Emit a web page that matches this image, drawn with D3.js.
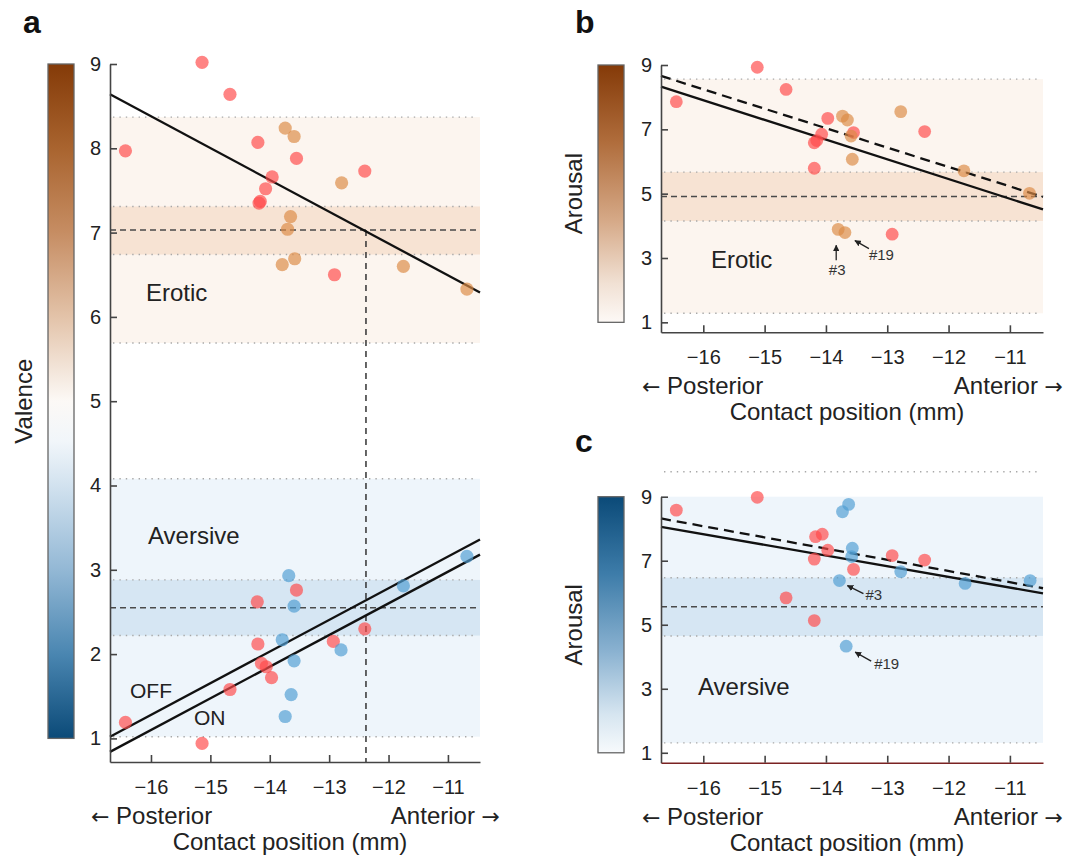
<!DOCTYPE html>
<html>
<head>
<meta charset="utf-8">
<script src="https://cdn.jsdelivr.net/npm/d3@7"></script>
<style>
    body { margin: 0; background: #fff; }
    svg text { font-family: "Liberation Sans", Arial, Helvetica, sans-serif; fill: #222; }
</style>
</head>
<body>
<svg id="fig" width="1077" height="859"></svg>
<script>
// ---- shared axis values ----
const xDomain = [-16.69, -10.46];
const xTicks = [-16, -15, -14, -13, -12, -11];
const valenceTicks = [1, 2, 3, 4, 5, 6, 7, 8, 9];
const arousalTicks = [1, 3, 5, 7, 9];

// ---- panel a (valence) ----
const aEroOffX = [-16.43, -15.14, -14.67, -14.20, -13.96, -14.07, -14.18, -14.16, -13.55, -12.40, -12.91];
const aEroOffY = [7.97, 9.02, 8.64, 8.07, 7.66, 7.52, 7.35, 7.37, 7.88, 7.73, 6.50];
const aEroOnX = [-13.74, -13.59, -12.79, -13.65, -13.70, -13.58, -13.79, -11.75, -10.68];
const aEroOnY = [8.24, 8.14, 7.59, 7.19, 7.04, 6.69, 6.62, 6.60, 6.33];
const aAveOffX = [-16.43, -15.14, -14.67, -14.21, -14.20, -14.14, -14.06, -13.97, -13.55, -12.93, -12.40];
const aAveOffY = [1.19, 0.94, 1.58, 2.62, 2.12, 1.89, 1.85, 1.72, 2.76, 2.15, 2.30];
const aAveOnX = [-13.68, -13.59, -13.79, -13.59, -13.64, -13.74, -12.80, -11.75, -10.68];
const aAveOnY = [2.93, 2.57, 2.17, 1.92, 1.52, 1.26, 2.05, 2.81, 3.16];
// bands: outer low, inner low, mean, inner high, outer high
const aEroBand = [5.69, 6.74, 7.03, 7.31, 8.37];
const aAveBand = [1.02, 2.22, 2.55, 2.88, 4.08];
// fitted lines: value at left and right end of xDomain
const aEroFit = [8.64, 6.29];
const aAveOffFit = [1.02, 3.36];
const aAveOnFit = [0.84, 3.18];
const aCrossX = -12.38;

// ---- panel b (arousal, erotic) ----
const bOffX = [-16.44, -15.12, -14.65, -13.97, -14.07, -14.19, -14.15, -14.19, -13.55, -12.39, -12.92];
const bOffY = [7.86, 8.93, 8.24, 7.34, 6.85, 6.58, 6.65, 5.79, 6.90, 6.93, 3.74];
const bOnX = [-13.73, -13.65, -13.59, -13.57, -12.78, -11.75, -10.68, -13.80, -13.69];
const bOnY = [7.41, 7.29, 6.79, 6.07, 7.55, 5.71, 5.01, 3.89, 3.79];
const bBand = [1.28, 4.15, 4.91, 5.67, 8.56];
const bFitSolid = [8.33, 4.51];
const bFitDashed = [8.66, 4.90];

// ---- panel c (arousal, aversive) ----
const cOffX = [-16.44, -15.12, -14.17, -14.06, -13.97, -14.19, -13.55, -14.65, -14.19, -12.92, -12.39];
const cOffY = [8.58, 8.98, 7.75, 7.83, 7.33, 7.05, 6.73, 5.84, 5.13, 7.16, 7.02];
const cOnX = [-13.73, -13.63, -13.57, -13.58, -13.78, -13.67, -12.78, -11.73, -10.67];
const cOnY = [8.53, 8.76, 7.39, 7.13, 6.38, 4.33, 6.66, 6.29, 6.38];
const cBand = [1.31, 4.65, 5.56, 6.47, 9.78];
const cFitSolid = [8.06, 5.98];
const cFitDashed = [8.32, 6.14];

const RED = '#ff4a4a', ORANGE = '#db8a45', BLUE = '#4f9ed3';
const eroticStyle = { light: '#fcf5ef', dark: '#f7e3d3' };
const aversiveStyle = { light: '#eef5fb', dark: '#d6e6f3' };

const svg = d3.select('#fig');
const defs = svg.append('defs');

// colour bar gradients
function gradient(id, stops) {
    const gr = defs.append('linearGradient').attr('id', id)
        .attr('x1', 0).attr('y1', 0).attr('x2', 0).attr('y2', 1);
    stops.forEach(s => gr.append('stop').attr('offset', s[0]).attr('stop-color', s[1]));
}
gradient('gradValence', [[0, '#843a08'], [0.125, '#a9642f'], [0.25, '#c68d63'], [0.375, '#e3c3a9'],
    [0.5, '#fcf9f6'], [0.56, '#f1f6fa'], [0.625, '#d2e2ef'], [0.75, '#93b8d5'], [0.875, '#4a86b1'], [1, '#0b4a78']]);
gradient('gradErotic', [[0, '#843a08'], [0.3, '#b06d3c'], [0.6, '#d5a886'], [0.85, '#f1e1d4'], [1, '#fdf9f6']]);
gradient('gradAversive', [[0, '#0b4a78'], [0.3, '#3d7ca9'], [0.6, '#89b1d0'], [0.85, '#d6e5f0'], [1, '#f7fafc']]);

defs.append('marker').attr('id', 'arrowHead')
    .attr('viewBox', '0 0 10 10').attr('refX', 9).attr('refY', 5)
    .attr('markerWidth', 5).attr('markerHeight', 5).attr('orient', 'auto')
    .append('path').attr('d', 'M0,0 L10,5 L0,10 z').attr('fill', '#222');

function zip(xs, ys) {
    return xs.map((v, i) => ({ x: v, y: ys[i] }));
}

// Draws one panel: bands, fit lines, points, axes, colour bar and labels
function drawPanel(p) {
    const x = d3.scaleLinear().domain(xDomain).range([p.left, p.right]);
    const y = d3.scaleLinear().domain(p.yDomain).range([p.bottom, p.top]);
    const g = svg.append('g');
    const yMax = p.yDomain[1];

    // shaded bands
    p.bands.forEach(b => {
        const v = b.vals;
        g.append('rect')
            .attr('x', p.left).attr('width', p.right - p.left)
            .attr('y', y(Math.min(v[4], yMax))).attr('height', y(v[0]) - y(Math.min(v[4], yMax)))
            .attr('fill', b.style.light);
        g.append('rect')
            .attr('x', p.left).attr('width', p.right - p.left)
            .attr('y', y(v[3])).attr('height', y(v[1]) - y(v[3]))
            .attr('fill', b.style.dark);
        [v[0], v[1], v[3], v[4]].forEach(val => {
            g.append('line')
                .attr('x1', p.left + 3).attr('x2', p.right - 3)
                .attr('y1', y(val)).attr('y2', y(val))
                .attr('stroke', '#a8a8a8').attr('stroke-width', 1.4)
                .attr('stroke-dasharray', '1.4,5');
        });
        g.append('line')
            .attr('x1', p.left).attr('x2', p.right)
            .attr('y1', y(v[2])).attr('y2', y(v[2]))
            .attr('stroke', '#4a4a4a').attr('stroke-width', 1.6)
            .attr('stroke-dasharray', '6,4');
    });

    if (p.cross !== undefined) {
        g.append('line')
            .attr('x1', x(p.cross)).attr('x2', x(p.cross))
            .attr('y1', y(aEroBand[2])).attr('y2', p.bottom)
            .attr('stroke', '#333').attr('stroke-width', 1.5)
            .attr('stroke-dasharray', '6,5');
    }

    // fitted lines
    p.fits.forEach(f => {
        g.append('line')
            .attr('x1', x(xDomain[0])).attr('x2', x(xDomain[1]))
            .attr('y1', y(f.vals[0])).attr('y2', y(f.vals[1]))
            .attr('stroke', '#111').attr('stroke-width', 2.3)
            .attr('stroke-dasharray', f.dashed ? '10,6' : null);
    });

    // points
    p.points.forEach(s => {
        g.selectAll(null).data(s.data).enter().append('circle')
            .attr('cx', d => x(d.x)).attr('cy', d => y(d.y))
            .attr('r', p.r)
            .attr('fill', s.color).attr('fill-opacity', 0.68);
    });

    // annotations (#3, #19)
    (p.notes || []).forEach(n => {
        const px = x(n.pt.x), py = y(n.pt.y);
        g.append('line')
            .attr('x1', px + n.tail[0]).attr('y1', py + n.tail[1])
            .attr('x2', px + n.head[0]).attr('y2', py + n.head[1])
            .attr('stroke', '#222').attr('stroke-width', 1.3)
            .attr('marker-end', 'url(#arrowHead)');
        g.append('text')
            .attr('x', px + n.text[0]).attr('y', py + n.text[1])
            .attr('text-anchor', n.anchor)
            .style('font-size', '15px').style('fill', '#333')
            .text(n.label);
    });

    // axes with inward ticks
    const yAxis = g.append('g').attr('transform', `translate(${p.left},0)`)
        .call(d3.axisLeft(y).tickValues(p.yTicks).tickSizeInner(-7).tickSizeOuter(0).tickPadding(9));
    const xAxis = g.append('g').attr('transform', `translate(0,${p.bottom})`)
        .call(d3.axisBottom(x).tickValues(xTicks).tickSizeInner(-7).tickSizeOuter(0).tickPadding(18)
            .tickFormat(d => '\u2212' + Math.abs(d)));
    [yAxis, xAxis].forEach(ax => {
        ax.selectAll('path,line').attr('stroke', '#444').attr('stroke-width', 1.6);
        ax.selectAll('text').style('font-size', '20px').style('fill', '#222')
            .style('font-family', '"Liberation Sans", Arial, sans-serif');
    });
    if (p.xAxisColor) xAxis.select('path').attr('stroke', p.xAxisColor);

    // colour bar
    g.append('rect')
        .attr('x', p.barX).attr('width', 26)
        .attr('y', y(9)).attr('height', y(1) - y(9))
        .attr('fill', `url(#${p.grad})`)
        .attr('stroke', '#666').attr('stroke-width', 1.3);

    g.append('text')
        .attr('transform', `translate(${p.barX - 24},${(y(9) + y(1)) / 2}) rotate(-90)`)
        .attr('text-anchor', 'middle').attr('dy', '0.35em')
        .style('font-size', '24px')
        .text(p.yLabel);

    // in-plot labels
    p.labels.forEach(l => {
        g.append('text')
            .attr('x', p.left + l.dx)
            .attr('y', y(l.v))
            .style('font-size', l.size + 'px')
            .text(l.text);
    });

    // x labels
    const cx = (p.left + p.right) / 2;
    const post = g.append('text').attr('x', p.left - 19).attr('y', p.bottom + 62)
        .style('font-size', '24px');
    post.append('tspan').style('font-family', '"DejaVu Sans", sans-serif').style('font-size', '22px').text('\u2190');
    post.append('tspan').text(' Posterior');
    const ant = g.append('text').attr('x', p.right + 20).attr('y', p.bottom + 62)
        .attr('text-anchor', 'end').style('font-size', '24px');
    ant.append('tspan').text('Anterior ');
    ant.append('tspan').style('font-family', '"DejaVu Sans", sans-serif').style('font-size', '22px').text('\u2192');
    g.append('text').attr('x', cx - 5).attr('y', p.bottom + 88)
        .attr('text-anchor', 'middle').style('font-size', '24px').text('Contact position (mm)');

    // panel letter
    g.append('text').attr('x', p.letterX).attr('y', p.letterY)
        .style('font-size', '32px').style('font-weight', 'bold').style('fill', '#111')
        .text(p.letter);
}

const bOn = zip(bOnX, bOnY);
const cOn = zip(cOnX, cOnY);

drawPanel({
    left: 110, right: 480, top: 64, bottom: 762, yDomain: [0.72, 9], yTicks: valenceTicks,
    r: 6.6, barX: 48, grad: 'gradValence', yLabel: 'Valence',
    letter: 'a', letterX: 23, letterY: 33,
    bands: [{ vals: aEroBand, style: eroticStyle }, { vals: aAveBand, style: aversiveStyle }],
    cross: aCrossX,
    fits: [{ vals: aEroFit }, { vals: aAveOffFit }, { vals: aAveOnFit }],
    points: [
        { data: zip(aEroOffX, aEroOffY), color: RED },
        { data: zip(aEroOnX, aEroOnY), color: ORANGE },
        { data: zip(aAveOffX, aAveOffY), color: RED },
        { data: zip(aAveOnX, aAveOnY), color: BLUE }
    ],
    labels: [
        { text: 'Erotic', dx: 36, v: 6.19, size: 24 },
        { text: 'Aversive', dx: 38, v: 3.31, size: 24 },
        { text: 'OFF', dx: 20, v: 1.48, size: 21 },
        { text: 'ON', dx: 84, v: 1.16, size: 21 }
    ]
});

drawPanel({
    left: 661, right: 1043, top: 65, bottom: 332.3, yDomain: [0.69, 9], yTicks: arousalTicks,
    r: 6.4, barX: 598, grad: 'gradErotic', yLabel: 'Arousal',
    letter: 'b', letterX: 575, letterY: 33,
    bands: [{ vals: bBand, style: eroticStyle }],
    fits: [{ vals: bFitSolid }, { vals: bFitDashed, dashed: true }],
    points: [
        { data: zip(bOffX, bOffY), color: RED },
        { data: bOn, color: ORANGE }
    ],
    notes: [
        { pt: bOn[7], label: '#3', tail: [-2, 31], head: [-2, 16], text: [-1, 46], anchor: 'middle' },
        { pt: bOn[8], label: '#19', tail: [24, 16], head: [10, 8], text: [24, 27], anchor: 'start' }
    ],
    labels: [{ text: 'Erotic', dx: 50, v: 2.68, size: 24 }]
});

drawPanel({
    left: 661, right: 1043, top: 496.7, bottom: 762.7, yDomain: [0.69, 9], yTicks: arousalTicks,
    r: 6.4, barX: 598, grad: 'gradAversive', yLabel: 'Arousal',
    letter: 'c', letterX: 575, letterY: 452,
    bands: [{ vals: cBand, style: aversiveStyle }],
    fits: [{ vals: cFitSolid }, { vals: cFitDashed, dashed: true }],
    points: [
        { data: zip(cOffX, cOffY), color: RED },
        { data: cOn, color: BLUE }
    ],
    notes: [
        { pt: cOn[4], label: '#3', tail: [24, 13], head: [8, 5], text: [26, 19], anchor: 'start' },
        { pt: cOn[5], label: '#19', tail: [25, 15], head: [9, 6], text: [28, 23], anchor: 'start' }
    ],
    labels: [{ text: 'Aversive', dx: 37, v: 2.80, size: 24 }],
    xAxisColor: '#7a2222'
});
</script>
</body>
</html>
